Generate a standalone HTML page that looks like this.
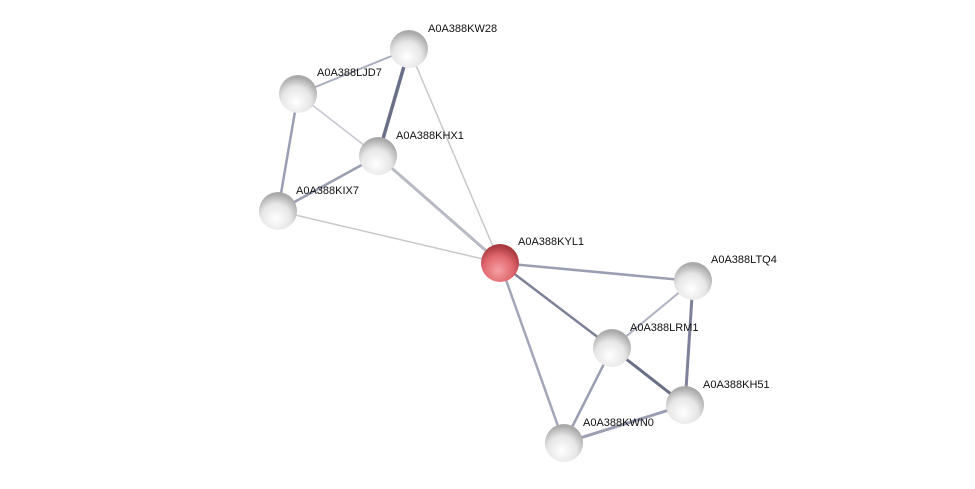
<!DOCTYPE html>
<html><head><meta charset="utf-8"><style>
html,body{margin:0;padding:0;background:#fff;}
svg{display:block;}
text{font-family:"Liberation Sans",sans-serif;font-size:11px;fill:#111;}
</style></head><body>
<svg width="975" height="489" viewBox="0 0 975 489" xmlns="http://www.w3.org/2000/svg">
<defs>
<radialGradient id="g" cx="0.45" cy="0.7" r="0.65">
<stop offset="0" stop-color="#ffffff"/><stop offset="0.6" stop-color="#e6e6e6"/><stop offset="1" stop-color="#a9a9a9"/>
</radialGradient>
<radialGradient id="r" cx="0.45" cy="0.7" r="0.65">
<stop offset="0" stop-color="#f4a0a4"/><stop offset="0.6" stop-color="#e0676d"/><stop offset="1" stop-color="#a83a40"/>
</radialGradient>
<linearGradient id="hl" x1="0" y1="0" x2="0" y2="1">
<stop offset="0" stop-color="#fff" stop-opacity="0.9"/><stop offset="1" stop-color="#fff" stop-opacity="0"/>
</linearGradient>
</defs>
<g stroke-linecap="round" fill="none">
<line x1="409" y1="49" x2="298" y2="94" stroke="#a9adc0" stroke-width="2"/>
<line x1="409" y1="49" x2="378" y2="156" stroke="#6a6f88" stroke-width="3.5"/>
<line x1="409" y1="49" x2="500" y2="263" stroke="#c8c8cc" stroke-width="1.5"/>
<line x1="298" y1="94" x2="378" y2="156" stroke="#c4c6d0" stroke-width="1.5"/>
<line x1="298" y1="94" x2="278" y2="211" stroke="#9a9eb2" stroke-width="2.5"/>
<line x1="378" y1="156" x2="278" y2="211" stroke="#9a9eb2" stroke-width="2.5"/>
<line x1="378" y1="156" x2="500" y2="263" stroke="#b8bac6" stroke-width="3"/>
<line x1="278" y1="211" x2="500" y2="263" stroke="#c8c8cc" stroke-width="1.5"/>
<line x1="500" y1="263" x2="693" y2="281" stroke="#9a9eb2" stroke-width="2.5"/>
<line x1="500" y1="263" x2="612" y2="348" stroke="#7e8299" stroke-width="2.5"/>
<line x1="500" y1="263" x2="564" y2="443" stroke="#a3a6ba" stroke-width="2.5"/>
<line x1="693" y1="281" x2="612" y2="348" stroke="#afb2c2" stroke-width="2"/>
<line x1="693" y1="281" x2="685" y2="405" stroke="#7e8299" stroke-width="3"/>
<line x1="612" y1="348" x2="685" y2="405" stroke="#6a6f88" stroke-width="3"/>
<line x1="612" y1="348" x2="564" y2="443" stroke="#9a9eb2" stroke-width="2.5"/>
<line x1="564" y1="443" x2="685" y2="405" stroke="#9a9eb2" stroke-width="3"/>
</g>
<g>
<circle cx="409" cy="49" r="19" fill="url(#g)"/>
<circle cx="298" cy="94" r="19" fill="url(#g)"/>
<circle cx="378" cy="156" r="19" fill="url(#g)"/>
<circle cx="278" cy="211" r="19" fill="url(#g)"/>
<circle cx="500" cy="263" r="19" fill="url(#r)"/>
<circle cx="693" cy="281" r="19" fill="url(#g)"/>
<circle cx="612" cy="348" r="19" fill="url(#g)"/>
<circle cx="685" cy="405" r="19" fill="url(#g)"/>
<circle cx="564" cy="443" r="19" fill="url(#g)"/>
</g>
<g>
<text x="428" y="32">A0A388KW28</text>
<text x="317" y="76">A0A388LJD7</text>
<text x="396" y="139">A0A388KHX1</text>
<text x="296" y="194">A0A388KIX7</text>
<text x="518" y="245">A0A388KYL1</text>
<text x="711" y="263">A0A388LTQ4</text>
<text x="630" y="331">A0A388LRM1</text>
<text x="703" y="388">A0A388KH51</text>
<text x="583" y="426">A0A388KWN0</text>
</g>
</svg>
</body></html>
